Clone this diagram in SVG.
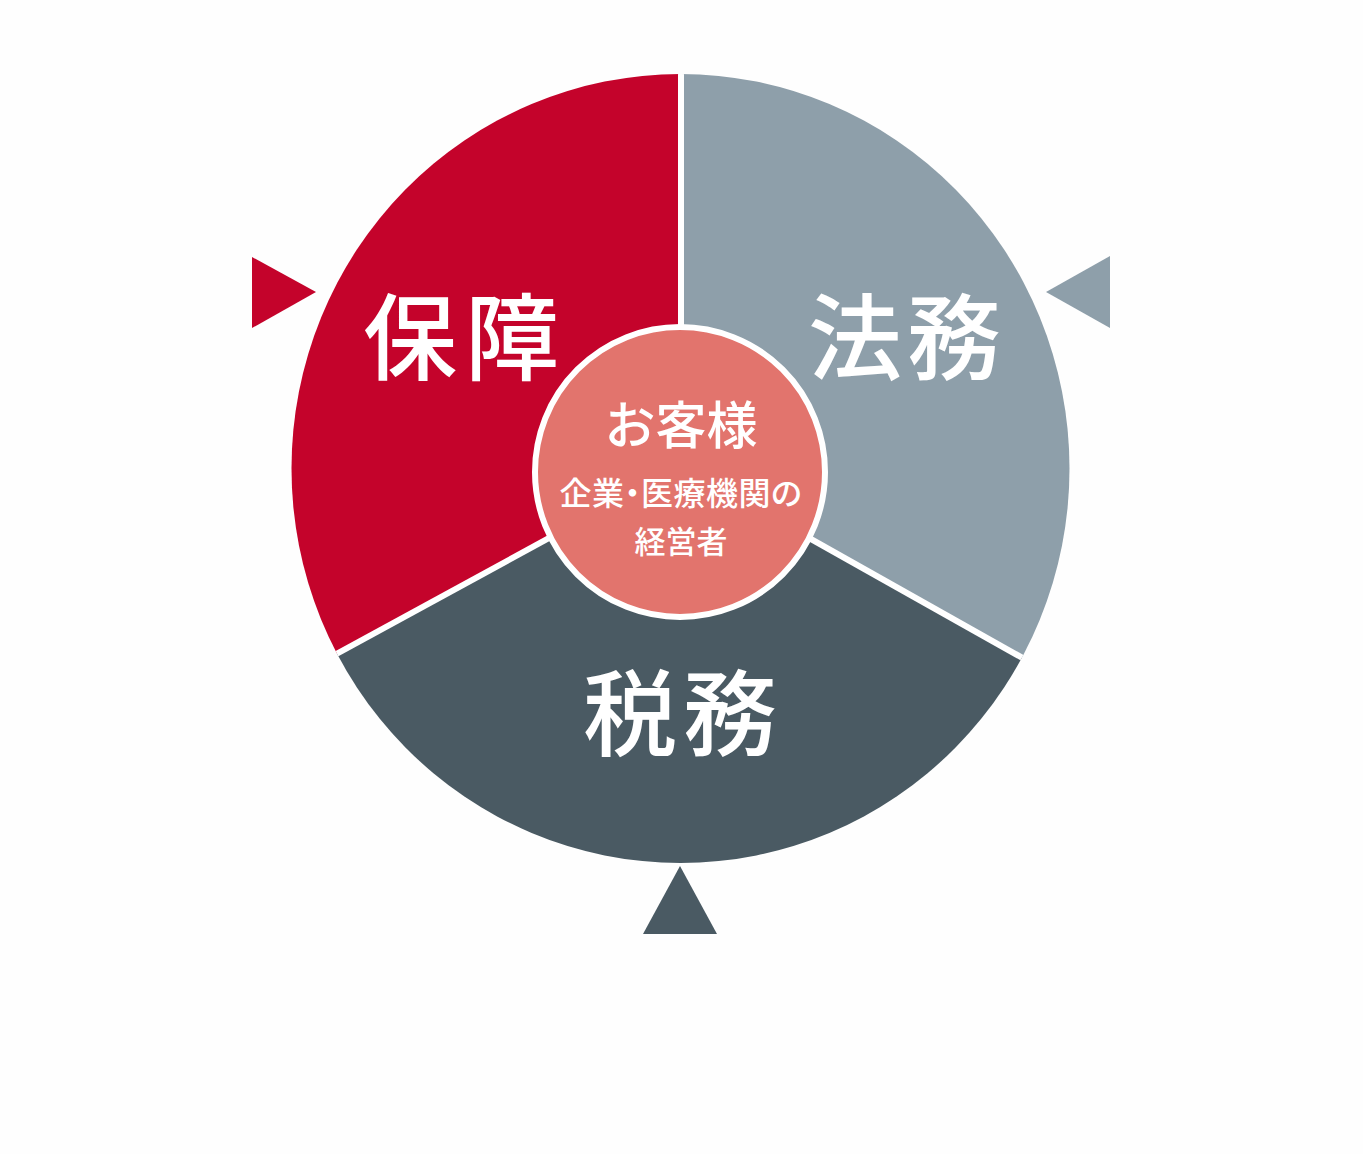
<svg xmlns="http://www.w3.org/2000/svg" width="1363" height="1154" viewBox="0 0 1363 1154">
  <defs>
    <style>
      .big { font-family: "Noto Sans CJK JP", "Noto Sans", sans-serif; font-weight: 500; font-size: 94px; fill: #ffffff; text-anchor: middle; }
      .mid { font-family: "Noto Sans CJK JP", "Noto Sans", sans-serif; font-weight: 500; font-size: 51px; fill: #ffffff; text-anchor: middle; }
      .small { font-family: "Noto Sans CJK JP", "Noto Sans", sans-serif; font-weight: 500; font-size: 31px; fill: #ffffff; text-anchor: middle; }
      .palt { font-feature-settings: "palt"; font-size: 32px; letter-spacing: 0.5px; }
      .divider { stroke: #ffffff; stroke-width: 6; fill: none; }
    </style>
    <clipPath id="disc">
      <ellipse cx="680.5" cy="468.5" rx="389" ry="394.5"/>
    </clipPath>
  </defs>
  <rect width="1363" height="1154" fill="#fefefe"/>

  <g clip-path="url(#disc)">
    <g id="hosho">
      <polygon points="681,466 681,-10 -10,-10 -10,843" fill="#C4032B"/>
    </g>
    <g id="homu">
      <polygon points="681,466 681,-10 1373,-10 1373,855" fill="#8E9FAA"/>
    </g>
    <g id="zeimu">
      <polygon points="681,466 -10,843 -10,1164 1373,1164 1373,855" fill="#4A5A63"/>
    </g>
    <g id="connectors">
      <line class="divider" x1="681" y1="466" x2="681" y2="-10"/>
      <line class="divider" x1="681" y1="466" x2="-10" y2="843"/>
      <line class="divider" x1="681" y1="466" x2="1373" y2="855"/>
    </g>
  </g>

  <g id="labels">
    <text class="big" x="410 512" y="373">保障</text>
    <text class="big" x="855 954" y="373">法務</text>
    <text class="big" x="630 730" y="749">税務</text>
  </g>

  <g id="center">
    <circle cx="680" cy="472" r="145" fill="#E2746D" stroke="#ffffff" stroke-width="6"/>
    <text class="mid" x="681" y="444">お客様</text>
    <text class="small palt" x="681" y="505">企業・医療機関の</text>
    <text class="small" x="681" y="553">経営者</text>
  </g>

  <g id="pointers">
    <polygon id="pointer-hosho" points="252,257 252,328 316,292" fill="#C4032B"/>
    <polygon id="pointer-homu" points="1110,256 1110,328 1046,292" fill="#8E9FAA"/>
    <polygon id="pointer-zeimu" points="680,866 643,934 717,934" fill="#4A5A63"/>
  </g>
</svg>
